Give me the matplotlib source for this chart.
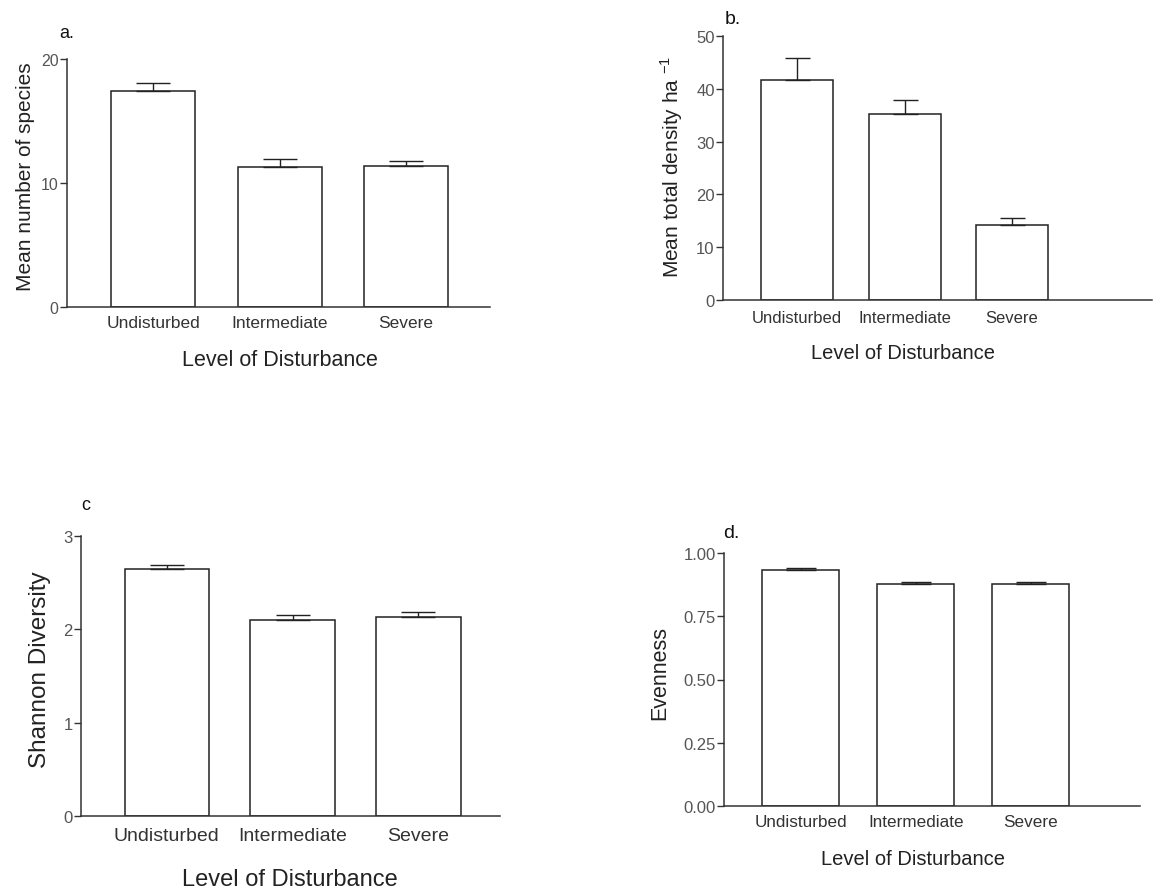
import matplotlib
matplotlib.use("Agg")
import matplotlib.pyplot as plt

plt.rcParams['font.family'] = ['Liberation Sans', 'DejaVu Sans']

categories = ["Undisturbed", "Intermediate", "Severe"]

species_mean = [17.4, 11.3, 11.35]
species_se = [0.7, 0.6, 0.45]

density_mean = [41.6, 35.3, 14.2]
density_se = [4.3, 2.5, 1.25]

shannon_mean = [2.65, 2.10, 2.13]
shannon_se = [0.04, 0.055, 0.06]

evenness_mean = [0.931, 0.878, 0.878]
evenness_se = [0.009, 0.008, 0.008]

species_ticks = [0, 10, 20]
density_ticks = [0, 10, 20, 30, 40, 50]
shannon_ticks = [0, 1, 2, 3]
evenness_ticks = [0.00, 0.25, 0.50, 0.75, 1.00]
evenness_ticklabels = ["0.00", "0.25", "0.50", "0.75", "1.00"]

W, H = 1158, 895
fig = plt.figure(figsize=(W / 100, H / 100), dpi=100)

TICK_COLOR = "#555555"
AX_COLOR = "#333333"


def make_axes(left, right, top, bottom):
    return fig.add_axes([left / W, 1 - bottom / H, (right - left) / W, (bottom - top) / H])


def panel(ax, means, se, ticks, ticklabels, xlim, width, capsize, ylabel, yl_coords,
          xl_coords, ylabel_size, xlabel_size, xtick_size, xpad, ytick_size):
    x = list(range(len(categories)))
    ax.bar(x, means, width=width, color="white", edgecolor="#222222", linewidth=1.1, zorder=2)
    ax.errorbar(x, means, yerr=[[0] * len(se), se], fmt="none", ecolor="#222222",
                elinewidth=1.0, capsize=capsize, capthick=1.0, zorder=3)
    ax.set_xlim(*xlim)
    ax.set_ylim(ticks[0], ticks[-1])
    ax.set_yticks(ticks)
    ax.set_yticklabels(ticklabels, fontsize=ytick_size, color=TICK_COLOR)
    ax.set_xticks(x)
    ax.set_xticklabels(categories, fontsize=xtick_size, color="#333333")
    ax.tick_params(axis="x", length=0, pad=xpad)
    ax.tick_params(axis="y", length=5, width=1, color=AX_COLOR, pad=1, direction="out")
    for s in ["top", "right"]:
        ax.spines[s].set_visible(False)
    for s in ["left", "bottom"]:
        ax.spines[s].set_color(AX_COLOR)
        ax.spines[s].set_linewidth(1.1)
    ax.set_ylabel(ylabel, fontsize=ylabel_size, color="#222222")
    ax.yaxis.label.set_va("center")
    ax.yaxis.set_label_coords(*yl_coords)
    ax.set_xlabel("Level of Disturbance", fontsize=xlabel_size, color="#222222")
    ax.xaxis.label.set_va("center")
    ax.xaxis.set_label_coords(*xl_coords)


# Panel a
ax_a = make_axes(67, 490, 60, 308)
panel(ax_a, species_mean, species_se, species_ticks, [str(t) for t in species_ticks],
      (-0.68, 2.664), 0.664, 12, "Mean number of species", (-0.099, 0.528),
      (0.504, -0.21), 15, 15.5, 12.5, 6, 11.5)

# Panel b
ax_b = make_axes(723, 1152, 37, 301)
panel(ax_b, density_mean, density_se, density_ticks, [str(t) for t in density_ticks],
      (-0.688, 3.30), 0.67, 9, "Mean total density ha $^{\\mathregular{-1}}$", (-0.119, 0.51),
      (0.42, -0.197), 15, 14.5, 12, 7, 12)

# Panel c
ax_c = make_axes(81, 500, 537, 817)
panel(ax_c, shannon_mean, shannon_se, shannon_ticks, [str(t) for t in shannon_ticks],
      (-0.682, 2.65), 0.672, 12, "Shannon Diversity", (-0.098, 0.525),
      (0.499, -0.225), 17.5, 17, 14, 8, 12)

# Panel d
ax_d = make_axes(724, 1140, 554, 807)
panel(ax_d, evenness_mean, evenness_se, evenness_ticks, evenness_ticklabels,
      (-0.667, 2.95), 0.67, 11, "Evenness", (-0.154, 0.53),
      (0.454, -0.209), 15.5, 14.5, 12.3, 6, 12)

# Panel letters
for txt, px, py, fs in [("a.", 67, 33, 13), ("b.", 733, 20, 14), ("c", 86, 506, 13), ("d.", 731, 533, 14)]:
    fig.text(px / W, 1 - py / H, txt, fontsize=fs, ha="center", va="center", color="#111111")

fig.savefig("out.png", dpi=100, facecolor="white")
